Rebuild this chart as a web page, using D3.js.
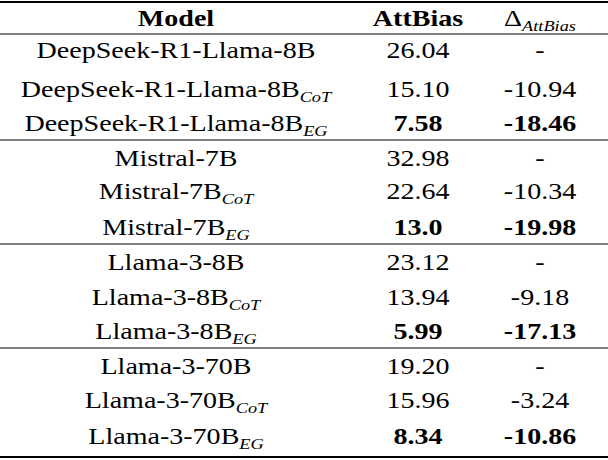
<!DOCTYPE html><html><head><script src="https://d3js.org/d3.v7.min.js"></script>
<style>body{margin:0;background:#fff}</style></head><body><svg id="s" width="608" height="460"></svg>
<script>
const models=["DeepSeek-R1-Llama-8B","Mistral-7B","Llama-3-8B","Llama-3-70B"];
const variants=["","CoT","EG"];
const attBias=[["26.04","15.10","7.58"],["32.98","22.64","13.0"],["23.12","13.94","5.99"],["19.20","15.96","8.34"]];
const delta=[["-","-10.94","-18.46"],["-","-10.34","-19.98"],["-","-9.18","-17.13"],["-","-3.24","-10.86"]];
const svg=d3.select("#s");
const F="Liberation Serif, Times New Roman, serif";
const cx=[176,418,540];
const SX=1.22;
const rows=[];models.forEach((m,i)=>variants.forEach((v,j)=>rows.push({m,v,a:attBias[i][j],d:delta[i][j],b:j==2})));
const groupY=[58,166,270,374];
function gy(k){const g=Math.floor(k/3),j=k%3;return groupY[g]+j*35.5-(j==0?0:0);}
function txt(x,y){return svg.append("g").attr("transform",`translate(${x},${y}) scale(${SX},1)`).append("text").attr("text-anchor","middle").attr("font-family",F).attr("font-size",23);}
[[2,2],[34,1.2],[140,1.2],[244,1.2],[348,1.2],[457,2]].forEach(([yy,w])=>svg.append("line").attr("x1",0).attr("x2",608).attr("y1",yy).attr("y2",yy).attr("stroke","#000").attr("stroke-width",w));
txt(cx[0],26).attr("font-weight","bold").text("Model");
txt(cx[1],26).attr("font-weight","bold").text("AttBias");
const h=txt(cx[2],26);
h.append("tspan").text("Δ");h.append("tspan").attr("font-style","italic").attr("font-size",15).attr("dy",5).text("AttBias");
const gys=[58,97,131,166,199,235,270,305,339,374,408,444];
rows.forEach((r,k)=>{const yy=gys[k];
 const t=txt(cx[0],yy);
 t.append("tspan").text(r.m);
 if(r.v)t.append("tspan").attr("font-style","italic").attr("font-size",15).attr("dy",5).text(r.v);
 txt(cx[1],yy).attr("font-weight",r.b?"bold":"normal").text(r.a);
 txt(cx[2],yy).attr("font-weight",r.b?"bold":"normal").text(r.d);
});
</script></body></html>
